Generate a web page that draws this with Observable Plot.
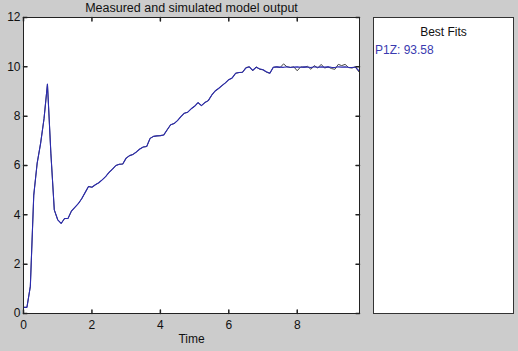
<!DOCTYPE html>
<html>
<head>
<meta charset="utf-8">
<script src="https://cdn.jsdelivr.net/npm/d3@7"></script>
<script src="https://cdn.jsdelivr.net/npm/@observablehq/plot@0.6"></script>
<style>
  html, body { margin: 0; padding: 0; }
  body { width: 518px; height: 351px; background: #cccccc; position: relative; overflow: hidden;
         font-family: "Liberation Sans", Arial, sans-serif; }
  #title { position: absolute; left: 0; width: 383px; top: 1px; text-align: center; font-size: 12.5px; color: #111; }
  #xlabel { position: absolute; left: 0; width: 383px; top: 332px; text-align: center; font-size: 12px; color: #111; }
  #chart { position: absolute; left: 0; top: 0; }
  #fits { position: absolute; left: 373px; top: 17px; width: 139px; height: 295px; background: #fff;
          border: 1px solid #333; }
  #fits .head { position: absolute; top: 7px; left: 0; width: 100%; text-align: center; font-size: 12px; color: #111; }
  #fits .item { position: absolute; top: 25px; left: 1px; font-size: 12px; color: #3a3ab0; }
</style>
</head>
<body>
<div id="chart"></div>
<div id="title">Measured and simulated model output</div>
<div id="xlabel">Time</div>
<div id="fits"><div class="head">Best Fits</div><div class="item">P1Z: 93.58</div></div>
<script>
const time = [0.0,0.1,0.2,0.3,0.4,0.5,0.6,0.7,0.8,0.9,1.0,1.1,1.2,1.3,1.4,1.5,1.6,1.7,1.8,1.9,
  2.0,2.1,2.2,2.3,2.4,2.5,2.6,2.7,2.8,2.9,3.0,3.1,3.2,3.3,3.4,3.5,3.6,3.7,3.8,3.9,
  4.0,4.1,4.2,4.3,4.4,4.5,4.6,4.7,4.8,4.9,5.0,5.1,5.2,5.3,5.4,5.5,5.6,5.7,5.8,5.9,
  6.0,6.1,6.2,6.3,6.4,6.5,6.6,6.7,6.8,6.9,7.0,7.1,7.2,7.3,7.4,7.5,7.6,7.7,7.8,7.9,
  8.0,8.1,8.2,8.3,8.4,8.5,8.6,8.7,8.8,8.9,9.0,9.1,9.2,9.3,9.4,9.5,9.6,9.7,9.8];

const simulated = [0.25,0.25,1.1,4.8,6.1,6.9,7.9,9.3,6.5,4.2,3.8,3.65,3.85,3.85,4.15,4.3,4.45,4.65,4.9,5.15,
  5.12,5.22,5.3,5.42,5.55,5.72,5.85,6.0,6.05,6.06,6.3,6.4,6.45,6.55,6.67,6.75,6.77,7.1,7.18,7.2,
  7.21,7.24,7.45,7.65,7.7,7.82,7.98,8.12,8.16,8.3,8.4,8.55,8.43,8.55,8.63,8.85,9.02,9.12,9.24,9.35,
  9.48,9.55,9.74,9.77,9.78,9.95,10.0,9.86,9.98,9.92,9.88,9.8,9.74,9.98,10.0,9.99,9.98,10.0,9.97,9.99,
  10.0,9.98,10.0,9.99,9.97,10.0,9.98,10.0,9.99,10.0,9.98,9.97,10.0,9.99,10.0,9.98,9.97,9.99,9.85];

const measured = [0.25,0.25,1.1,4.8,6.1,6.9,7.9,9.3,6.5,4.2,3.8,3.65,3.85,3.85,4.15,4.3,4.45,4.65,4.9,5.15,
  5.12,5.22,5.3,5.42,5.55,5.72,5.85,6.0,6.05,6.06,6.3,6.4,6.45,6.55,6.67,6.75,6.77,7.1,7.18,7.2,
  7.21,7.24,7.45,7.65,7.7,7.82,7.98,8.12,8.16,8.3,8.4,8.55,8.43,8.55,8.63,8.85,9.02,9.12,9.24,9.35,
  9.48,9.55,9.74,9.77,9.78,9.97,10.0,9.84,10.0,9.9,9.88,9.78,9.74,9.98,10.0,9.97,10.12,10.0,9.98,10.0,
  9.84,10.0,9.98,10.02,9.9,10.05,9.95,10.1,9.95,10.0,9.93,9.9,10.1,10.05,10.1,9.97,9.95,10.0,9.8];

const xTicks = [0, 2, 4, 6, 8];
const yTicks = [0, 2, 4, 6, 8, 10, 12];
const xDomain = [0, 9.82];
const yDomain = [0, 12];

const rowsMeasured = time.map((t, i) => ({t, v: measured[i]}));
const rowsSimulated = time.map((t, i) => ({t, v: simulated[i]}));

const tickShape = {draw(context, l) { context.moveTo(0, 0); context.lineTo(0, -l); }};
const tickLen = 3.5;

const chart = Plot.plot({
  width: 365,
  height: 351,
  marginLeft: 23,
  marginRight: 6,
  marginTop: 17,
  marginBottom: 38,
  style: {background: "transparent", fontFamily: "'Liberation Sans', Arial, sans-serif", fontSize: "12px", color: "#111"},
  x: {domain: xDomain, label: null},
  y: {domain: yDomain, label: null},
  marks: [
    Plot.frame({fill: "white", stroke: "none"}),
    Plot.line(rowsMeasured, {x: "t", y: "v", stroke: "#444", strokeWidth: 1}),
    Plot.line(rowsSimulated, {x: "t", y: "v", stroke: "#2a2ab0", strokeWidth: 1.1}),
    Plot.axisX(xTicks, {anchor: "bottom", tickSize: 0, tickPadding: 7}),
    Plot.axisY(yTicks, {anchor: "left", tickSize: 0, tickPadding: 3}),
    Plot.vector(xTicks, {x: d => d, frameAnchor: "bottom", length: tickLen, rotate: 0, anchor: "start", shape: tickShape, stroke: "#222"}),
    Plot.vector(xTicks, {x: d => d, frameAnchor: "top", length: tickLen, rotate: 180, anchor: "start", shape: tickShape, stroke: "#222"}),
    Plot.vector(yTicks, {y: d => d, frameAnchor: "left", length: tickLen, rotate: 90, anchor: "start", shape: tickShape, stroke: "#222"}),
    Plot.vector(yTicks, {y: d => d, frameAnchor: "right", length: tickLen, rotate: -90, anchor: "start", shape: tickShape, stroke: "#222"}),
    Plot.frame({stroke: "#222"})
  ]
});
document.getElementById("chart").appendChild(chart);
</script>
</body>
</html>
